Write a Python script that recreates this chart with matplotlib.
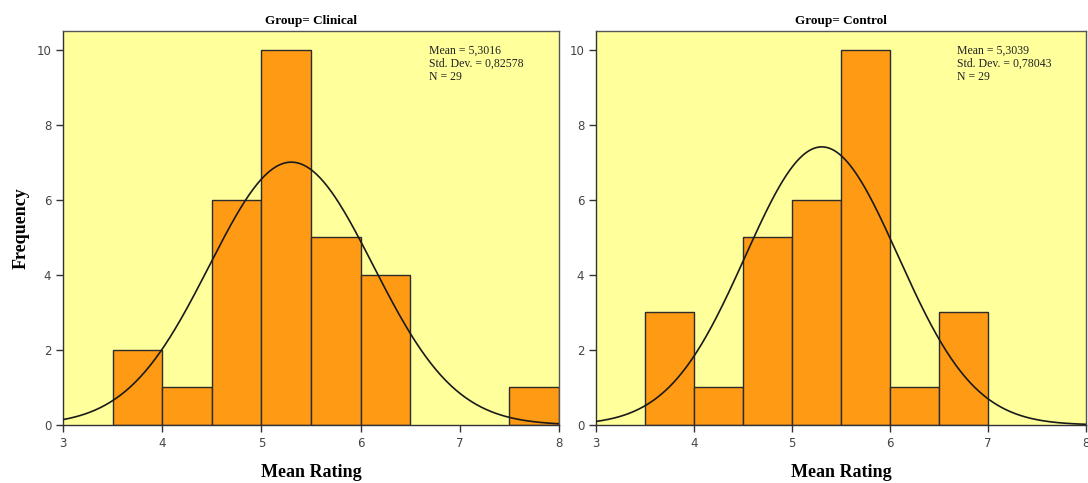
import numpy as np
import matplotlib
matplotlib.use("Agg")
import matplotlib.pyplot as plt

bin_edges = [3.0, 3.5, 4.0, 4.5, 5.0, 5.5, 6.0, 6.5, 7.0, 7.5, 8.0]
clinical_counts = [0, 2, 1, 6, 10, 5, 4, 0, 0, 1]
control_counts = [0, 3, 1, 5, 6, 10, 1, 3, 0, 0]
groups = ["Clinical", "Control"]
means = [5.3016, 5.3039]
sds = [0.82578, 0.78043]
ns = [29, 29]
mean_labels = ["5,3016", "5,3039"]
sd_labels = ["0,82578", "0,78043"]
xticks = [3, 4, 5, 6, 7, 8]
yticks = [0, 2, 4, 6, 8, 10]

BG = "#FFFF9C"
BAR = "#FF9A14"
EDGE = "#2b2b2b"
serif = ["Liberation Serif", "DejaVu Serif"]

fig = plt.figure(figsize=(10.88, 4.83), dpi=100)
axes = [fig.add_axes([63/1088, 58/483, 496/1088, 394/483]),
        fig.add_axes([596/1088, 58/483, 490/1088, 394/483])]

for ax, g, counts, m, s, n, ml, sl in zip(axes, groups, [clinical_counts, control_counts],
                                          means, sds, ns, mean_labels, sd_labels):
    ax.set_facecolor(BG)
    lefts = np.array(bin_edges[:-1])
    widths = np.diff(bin_edges)
    mask = np.array(counts) > 0
    ax.bar(lefts[mask], np.array(counts)[mask], width=widths[mask], align="edge",
           color=BAR, edgecolor=EDGE, linewidth=1.0, zorder=2)
    xs = np.linspace(3, 8, 400)
    bw = widths[0]
    ys = n * bw / (s * np.sqrt(2 * np.pi)) * np.exp(-0.5 * ((xs - m) / s) ** 2)
    ax.plot(xs, ys, color="#1a1a1a", linewidth=1.2, zorder=3)
    ax.set_xlim(3, 8)
    ax.set_ylim(0, 10.5)
    ax.set_xticks(xticks)
    ax.set_yticks(yticks)
    ax.tick_params(direction="out", length=5, width=1, colors="#333333",
                   labelsize=8.5, labelcolor="#444444")
    for sp in ax.spines.values():
        sp.set_color("#555555")
        sp.set_linewidth(1.0)
    ax.spines["bottom"].set_color("#333333")
    ax.spines["left"].set_color("#333333")
    ax.set_title(f"Group= {g}", fontsize=9.5, fontweight="bold", family=serif, pad=5)
    ax.set_xlabel("Mean Rating", fontsize=13, fontweight="bold", family=serif, labelpad=10)
    ax.text(0.737, 0.965, f"Mean = {ml}\nStd. Dev. = {sl}\nN = {n}",
            transform=ax.transAxes, ha="left", va="top", fontsize=8.5,
            family=serif, linespacing=1.15, color="#222222", zorder=4)

axes[0].set_ylabel("Frequency", fontsize=13, fontweight="bold", family=serif, labelpad=5)

fig.savefig("out.png", dpi=100)
